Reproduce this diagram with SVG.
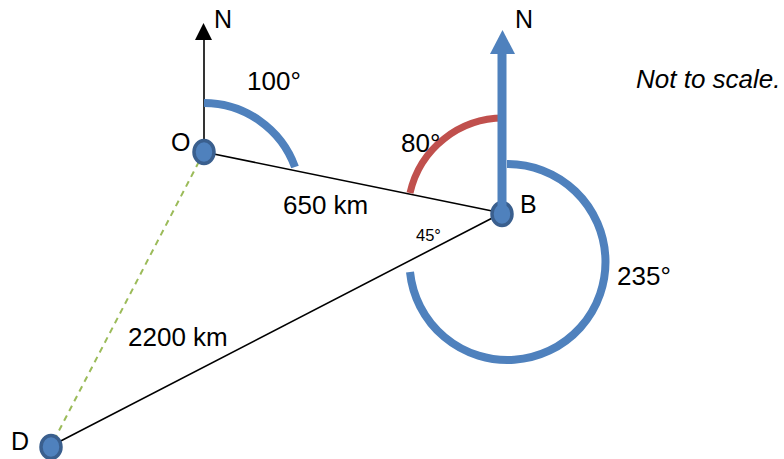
<svg xmlns="http://www.w3.org/2000/svg" width="784" height="459" viewBox="0 0 784 459">
<defs>
<style>
.t{font-family:"Liberation Sans",Arial,sans-serif;font-size:26px;fill:#000}
.l{font-size:25px}
.s{font-size:16.5px}
.line{stroke:#000;stroke-width:1.6;fill:none}
.arcb{stroke:#4F81BD;stroke-width:8;fill:none}
.arcr{stroke:#C0504D;stroke-width:7;fill:none}
.pt{fill:#4F81BD;stroke:#3A5F8E;stroke-width:3.5}
</style>
</defs>
<rect width="784" height="459" fill="#fff"/>
<g id="connectors">
<line class="line" x1="204" y1="152" x2="502" y2="213"/>
<line class="line" x1="502" y1="213" x2="51" y2="446"/>
<line x1="204" y1="152" x2="51" y2="446" stroke="#9BBB59" stroke-width="2" stroke-dasharray="6 5"/>
<line class="line" x1="204" y1="152" x2="204" y2="38"/>
<polygon points="195,40 212,40 203.5,23" fill="#000"/>
</g>
<g id="arcs">
<path class="arcb" d="M204,103 A97,97 0 0 1 295,167"/>
<path class="arcr" d="M410,193 A96,96 0 0 1 505,118"/>
<path class="arcb" d="M507,164 A98,98 0 1 1 410,272"/>
</g>
<g id="node-O">
<ellipse class="pt" cx="204" cy="152" rx="10" ry="11.5"/>
<text class="t l" x="171" y="151">O</text>
</g>
<g id="node-D">
<ellipse class="pt" cx="51" cy="447" rx="10" ry="11.5"/>
<text class="t l" x="11" y="450">D</text>
</g>
<g id="node-B">
<ellipse class="pt" cx="502" cy="214" rx="10" ry="11.5"/>
<line x1="502" y1="216" x2="502" y2="52" stroke="#4F81BD" stroke-width="9"/>
<polygon points="490,54 515,54 502.5,30" fill="#4F81BD"/>
<text class="t l" x="520" y="213">B</text>
</g>
<g id="labels">
<text class="t l" x="214" y="28">N</text>
<text class="t l" x="515" y="28">N</text>
<text class="t" x="247" y="90">100°</text>
<text class="t" x="401" y="152">80°</text>
<text class="t" x="283" y="214">650 km</text>
<text class="t s" x="416" y="241">45°</text>
<text class="t" x="617" y="285">235°</text>
<text class="t" x="128" y="346">2200 km</text>
<text class="t" x="636" y="88" font-style="italic">Not to scale.</text>
</g>
</svg>
